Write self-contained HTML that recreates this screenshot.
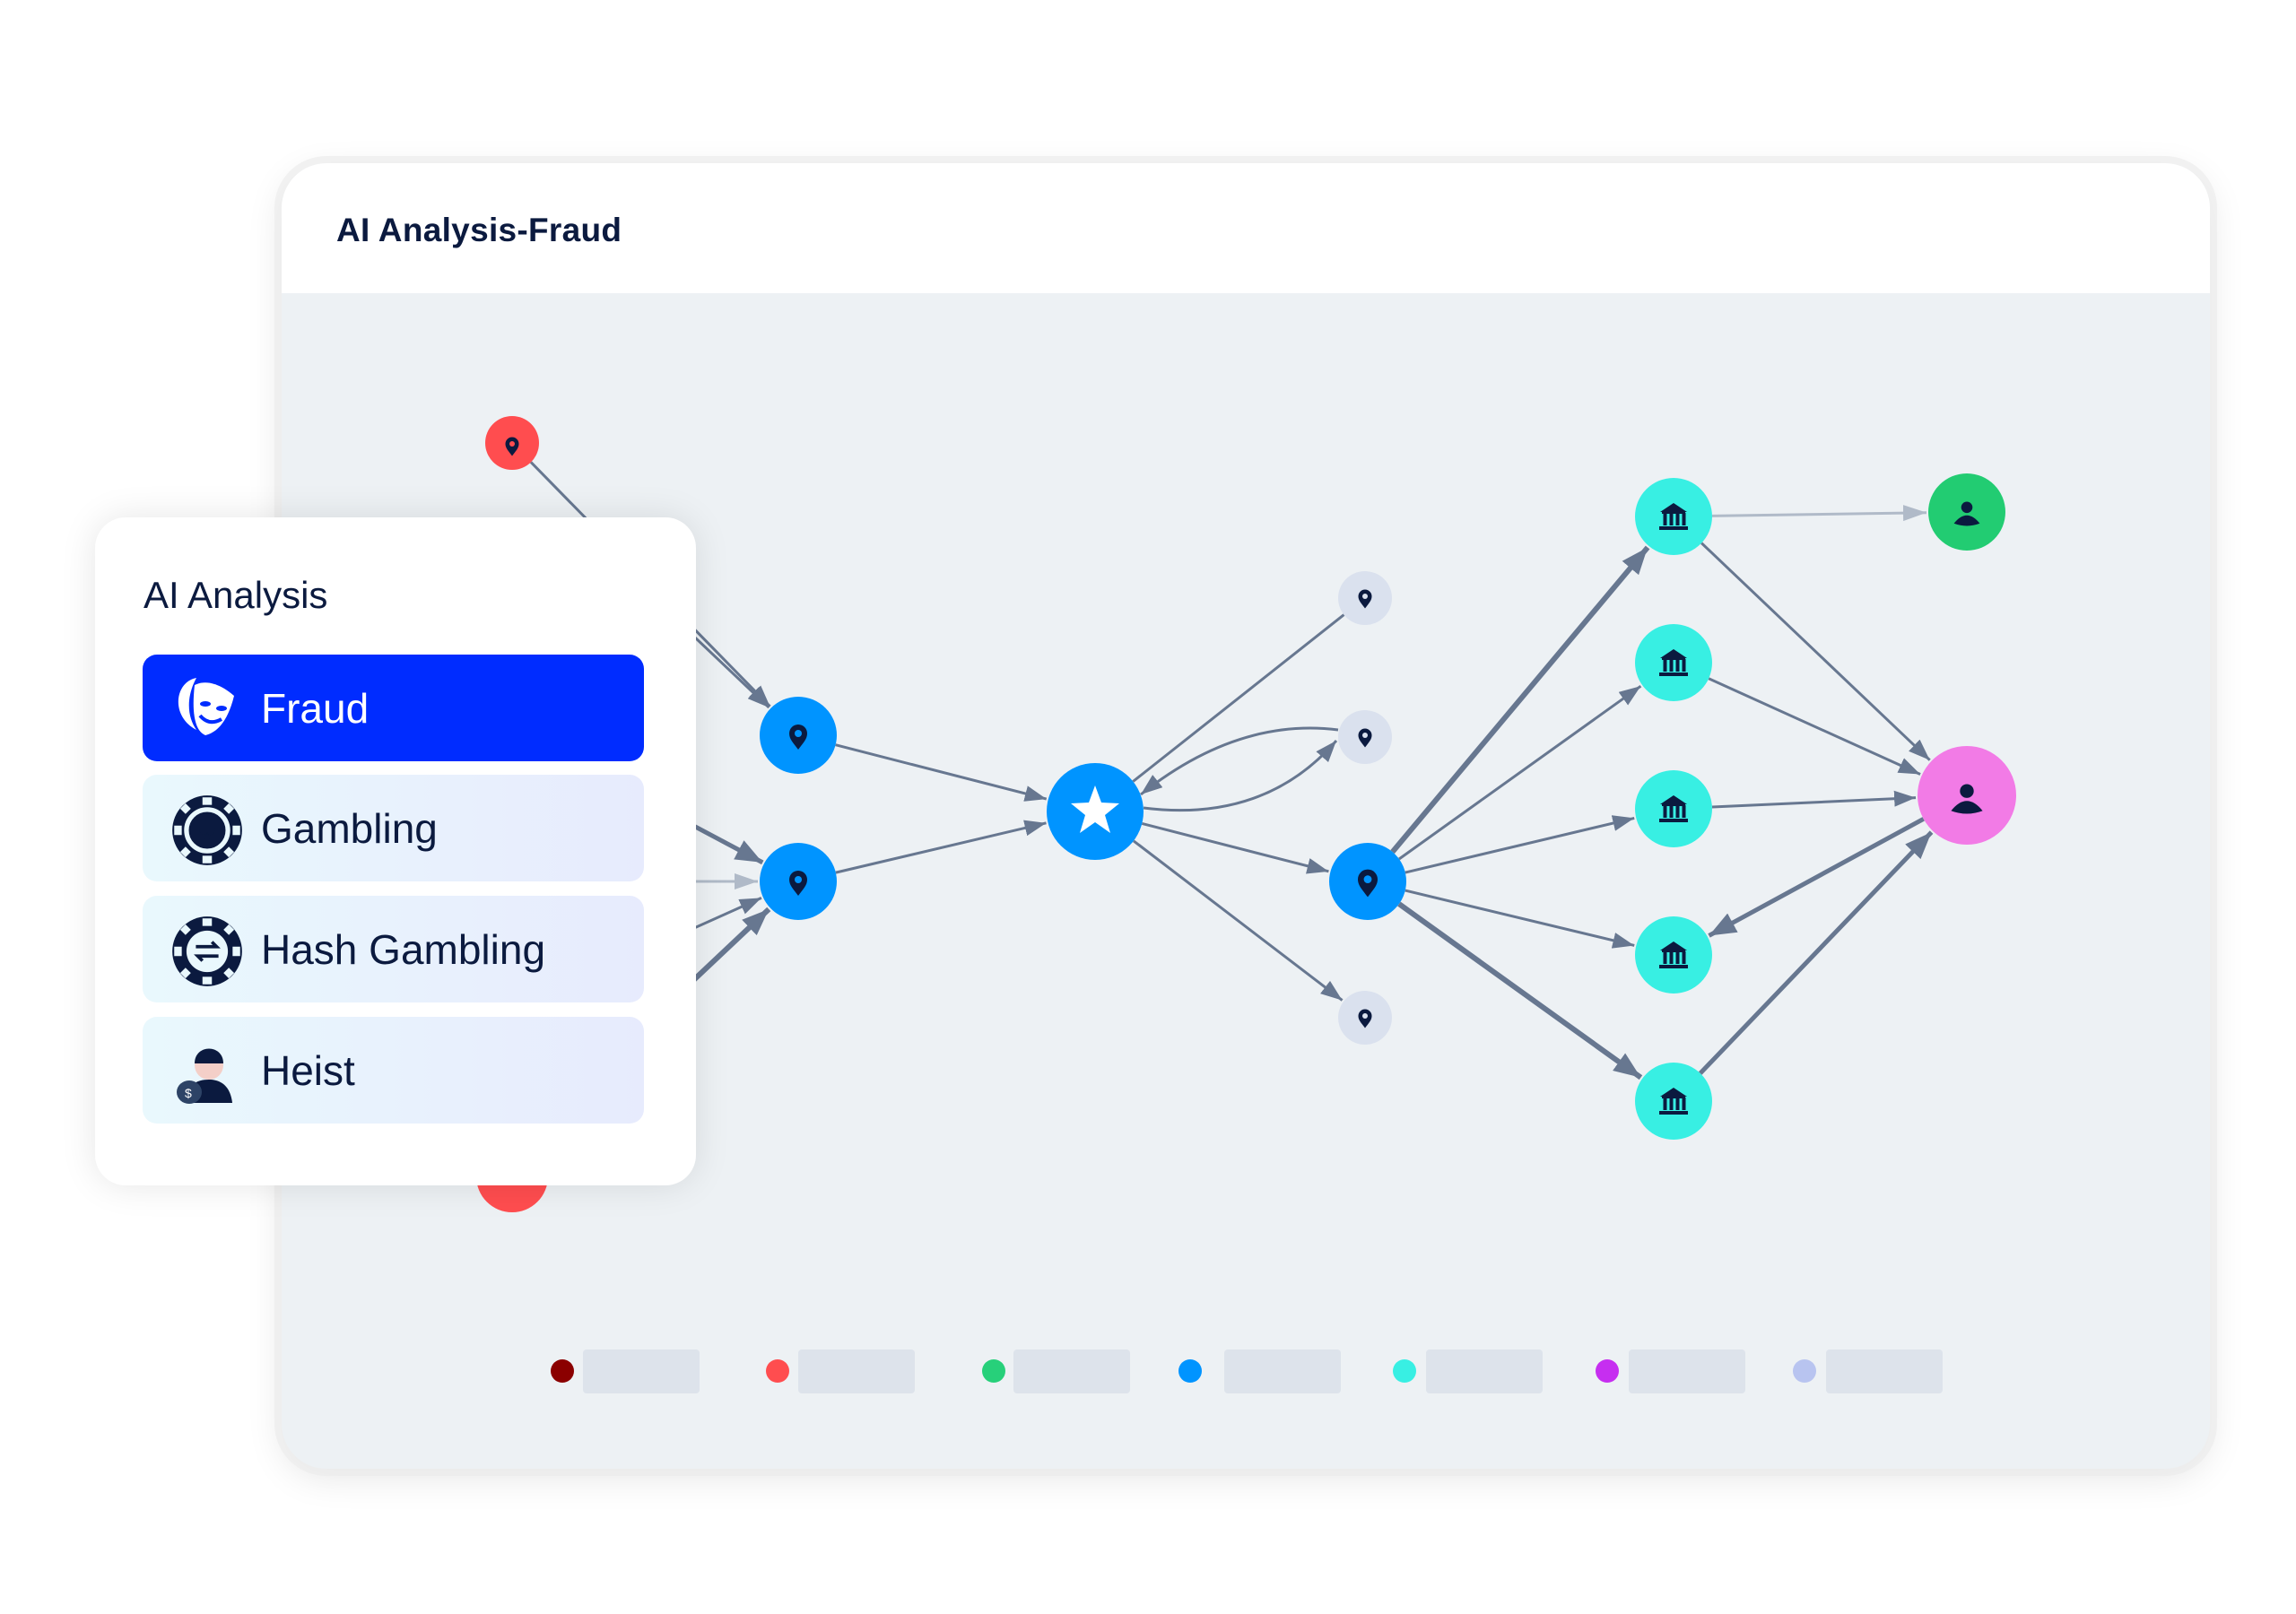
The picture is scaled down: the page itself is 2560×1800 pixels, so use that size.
<!DOCTYPE html>
<html><head><meta charset="utf-8">
<style>
html,body{margin:0;padding:0;background:#fff;width:2560px;height:1800px;overflow:hidden;font-family:"Liberation Sans",sans-serif;}
#card{position:absolute;left:314px;top:182px;width:2150px;height:1456px;border-radius:50px;background:#edf1f4;overflow:hidden;box-shadow:0 0 0 8px rgba(235,235,235,0.6),0 10px 40px rgba(0,0,0,0.10);}
#hdr{position:absolute;left:0;top:0;width:100%;height:145px;background:#fff;}
#title{position:absolute;left:61px;top:54px;font-size:37px;font-weight:bold;color:#0b1a3f;letter-spacing:0.3px;}
#g{position:absolute;left:0;top:0;}
#panel{position:absolute;left:106px;top:577px;width:670px;height:745px;background:#fff;border-radius:34px;box-shadow:0 0 40px rgba(0,0,0,0.10);}
#ph{position:absolute;left:54px;top:63px;font-size:42px;color:#0b1a3f;}
.it{position:absolute;left:53px;width:559px;height:119px;border-radius:16px;background:linear-gradient(90deg,#e9f8fd,#e7ebfd);}
.it span{position:absolute;left:132px;top:33px;font-size:46px;color:#0b1a3f;}
.it svg{position:absolute;left:30px;top:20px;}
</style></head><body>
<div id="card">
<svg id="g" width="2150" height="1456" viewBox="314 182 2150 1456" xmlns="http://www.w3.org/2000/svg"></svg>
<div id="hdr"><div id="title">AI Analysis-Fraud</div></div>
</div>
<div id="panel">
<div id="ph">AI Analysis</div>
<div class="it" style="top:153px;background:#002cff;">
<svg width="80" height="80" viewBox="0 0 80 80"><path d="M30 6 C10 10 4 35 16 52 C20 58 26 62 30 64 C20 50 18 28 30 6Z" fill="#fff"/><path d="M28 14 C40 8 56 12 72 26 C66 50 56 66 40 70 C30 66 24 50 28 14Z" fill="#fff"/><ellipse cx="40" cy="35" rx="6" ry="3" fill="#002cff"/><ellipse cx="58" cy="40" rx="6" ry="3" fill="#002cff"/><path d="M34 48 Q44 60 58 52" stroke="#002cff" stroke-width="4" fill="none"/></svg>
<span style="color:#fff">Fraud</span></div>
<div class="it" style="top:287px;">
<svg width="84" height="84" viewBox="0 0 80 80"><circle cx="40" cy="40" r="37" fill="#0b1a3f"/><circle cx="40" cy="40" r="22" fill="none" stroke="#e9f8fd" stroke-width="5"/><g fill="#e9f8fd"><rect x="35" y="5" width="10" height="8"/><rect x="35" y="67" width="10" height="8"/><rect x="5" y="35" width="8" height="10"/><rect x="67" y="35" width="8" height="10"/><rect x="13" y="13" width="8" height="8" transform="rotate(45 17 17)"/><rect x="59" y="13" width="8" height="8" transform="rotate(45 63 17)"/><rect x="13" y="59" width="8" height="8" transform="rotate(45 17 63)"/><rect x="59" y="59" width="8" height="8" transform="rotate(45 63 63)"/></g><path d="M40 28 C32 36 30 40 34 44 C37 46 39 44 40 42 L37 50 L43 50 L40 42 C41 44 43 46 46 44 C50 40 48 36 40 28Z" fill="#0b1a3f"/></svg>
<span>Gambling</span></div>
<div class="it" style="top:422px;">
<svg width="84" height="84" viewBox="0 0 80 80"><circle cx="40" cy="40" r="37" fill="#0b1a3f"/><circle cx="40" cy="40" r="22" fill="#e9f8fd"/><circle cx="40" cy="40" r="17" fill="#e9f8fd"/><g fill="#e9f8fd"><rect x="35" y="5" width="10" height="8"/><rect x="35" y="67" width="10" height="8"/><rect x="5" y="35" width="8" height="10"/><rect x="67" y="35" width="8" height="10"/><rect x="13" y="13" width="8" height="8" transform="rotate(45 17 17)"/><rect x="59" y="13" width="8" height="8" transform="rotate(45 63 17)"/><rect x="13" y="59" width="8" height="8" transform="rotate(45 17 63)"/><rect x="59" y="59" width="8" height="8" transform="rotate(45 63 63)"/></g><path d="M28 35 H50 L45 30 M52 45 H30 L35 50" stroke="#0b1a3f" stroke-width="3.5" fill="none"/></svg>
<span>Hash Gambling</span></div>
<div class="it" style="top:557px;">
<svg width="80" height="80" viewBox="0 0 80 80"><path d="M18 76 C18 56 30 50 44 50 C58 50 68 58 70 76Z" fill="#0b1a3f"/><circle cx="44" cy="34" r="16" fill="#f4cfc8"/><path d="M28 32 C28 10 60 10 60 32Z" fill="#0b1a3f"/><ellipse cx="22" cy="64" rx="14" ry="13" fill="#2d4366"/><text x="17" y="70" font-size="14" fill="#fff" font-family="Liberation Sans">$</text></svg>
<span>Heist</span></div>
</div>
<script>
var S="http://www.w3.org/2000/svg",g=document.getElementById('g');
function el(t,a,p){var e=document.createElementNS(S,t);for(var k in a)e.setAttribute(k,a[k]);(p||g).appendChild(e);return e;}
var defs=el('defs',{});
[['a','#677790',24,18],['b','#677790',30,24],['l','#b0bac8',26,18]].forEach(function(m){var mk=el('marker',{id:m[0],markerUnits:'userSpaceOnUse',markerWidth:m[2],markerHeight:m[3],refX:m[2],refY:m[3]/2,orient:'auto'},defs);el('path',{d:'M0 0 L'+m[2]+' '+m[3]/2+' L0 '+m[3]+'Z',fill:m[1]},mk);});
var N={r1:[571,494,30,'#ff4d4f'],r2:[571,1312,40,'#ff4d4f'],b1:[890,820,43,'#0094ff'],b2:[890,983,43,'#0094ff'],st:[1221,905,54,'#0094ff'],l1:[1522,667,30,'#dae1ee'],l2:[1522,822,30,'#dae1ee'],l3:[1522,1135,30,'#dae1ee'],b3:[1525,983,43,'#0094ff'],t1:[1866,576,43,'#38efe3'],t2:[1866,739,43,'#38efe3'],t3:[1866,902,43,'#38efe3'],t4:[1866,1065,43,'#38efe3'],t5:[1866,1228,43,'#38efe3'],gr:[2193,571,43,'#22cc72'],pk:[2193,887,55,'#f27be6']};
function line(p,q,rp,rq,w,c,m){var dx=q[0]-p[0],dy=q[1]-p[1],L=Math.hypot(dx,dy),ux=dx/L,uy=dy/L;var a={x1:p[0]+ux*rp,y1:p[1]+uy*rp,x2:q[0]-ux*rq,y2:q[1]-uy*rq,stroke:c,'stroke-width':w};if(m){a['marker-end']='url(#'+m+')';a.x2=q[0]-ux*(rq+2);a.y2=q[1]-uy*(rq+2);}el('line',a);}
function E(f,t,w,c,m){line(N[f],N[t],N[f][2],N[t][2],w,c,m);}
var C='#677790',LG='#b0bac8';
line(N.r1,N.b1,30,43,3,C,'a');
line([700,640],N.b1,0,43,3,C,'a');
line([640,850],N.b2,0,43,5,C,'b');
line([600,983],N.b2,0,43,3,LG,'l');
line([640,1095],N.b2,0,43,3,C,'a');
line([660,1200],N.b2,0,43,6,C,'b');
E('b1','st',3,C,'a');E('b2','st',3,C,'a');
E('st','l1',3,C,null);E('st','b3',3,C,'a');E('st','l3',3,C,'a');
el('path',{d:'M1492,814 Q1380,800 1272,886',fill:'none',stroke:C,'stroke-width':3,'marker-end':'url(#a)'});
el('path',{d:'M1275,901 Q1410,918 1490,826',fill:'none',stroke:C,'stroke-width':3,'marker-end':'url(#a)'});
E('b3','t1',6,C,'b');E('b3','t2',3,C,'a');E('b3','t3',3,C,'a');E('b3','t4',3,C,'a');E('b3','t5',6,C,'b');
E('t1','gr',3,LG,'l');E('t1','pk',3,C,'a');E('t2','pk',3,C,'a');E('t3','pk',3,C,'a');E('pk','t4',5,C,'b');E('t5','pk',5,C,'b');
var D='#0b1a3f';
function pin(x,y,s,inner){el('path',{d:'M'+x+' '+(y+14*s)+' C'+(x-6*s)+' '+(y+6*s)+' '+(x-10*s)+' '+(y+2*s)+' '+(x-10*s)+' '+(y-4*s)+' A'+10*s+' '+10*s+' 0 1 1 '+(x+10*s)+' '+(y-4*s)+' C'+(x+10*s)+' '+(y+2*s)+' '+(x+6*s)+' '+(y+6*s)+' '+x+' '+(y+14*s)+'Z',fill:D});el('circle',{cx:x,cy:y-4*s,r:4*s,fill:inner});}
function bank(x,y){el('path',{d:'M'+(x-15)+' '+(y-5)+' L'+x+' '+(y-15)+' L'+(x+15)+' '+(y-5)+'Z',fill:D});[-10,-3,4,11].forEach(function(o){el('rect',{x:x+o-1.5,y:y-4,width:4,height:14,fill:D});});el('rect',{x:x-16,y:y+11,width:32,height:4,fill:D});el('rect',{x:x-13,y:y-6,width:26,height:3,fill:D});}
function person(x,y,s){el('circle',{cx:x,cy:y-8*s,r:7*s,fill:D});el('path',{d:'M'+(x-16*s)+' '+(y+12*s)+' Q'+x+' '+(y-8*s)+' '+(x+16*s)+' '+(y+12*s)+' Q'+x+' '+(y+18*s)+' '+(x-16*s)+' '+(y+12*s)+'Z',fill:D});}
for(var k in N){var n=N[k];el('circle',{cx:n[0],cy:n[1],r:n[2],fill:n[3]});}
pin(571,498,0.75,'#ff4d4f');pin(890,822,1,'#0094ff');pin(890,985,1,'#0094ff');pin(1525,985,1.1,'#0094ff');
pin(1522,668,0.75,'#dae1ee');pin(1522,823,0.75,'#dae1ee');pin(1522,1136,0.75,'#dae1ee');
['t1','t2','t3','t4','t5'].forEach(function(k){bank(N[k][0],N[k][1]);});
person(2193,573,0.9);person(2193,891,1.1);
el('path',{d:'M1221,876 L1228,895 L1248,896 L1232,909 L1238,929 L1221,917 L1204,929 L1210,909 L1194,896 L1214,895Z',fill:'#fff'});
var LX=[627,867,1108,1327,1566,1792,2012],BX=[650,890,1130,1365,1590,1816,2036],LC=['#8b0000','#ff4d4f','#27d07a','#0094ff','#38efe3','#c62ef0','#b8c4f0'];
LX.forEach(function(x,i){el('circle',{cx:x,cy:1529,r:13,fill:LC[i]});el('rect',{x:BX[i],y:1505,width:130,height:49,rx:4,fill:'#dde3eb'});});
</script>
</body></html>
